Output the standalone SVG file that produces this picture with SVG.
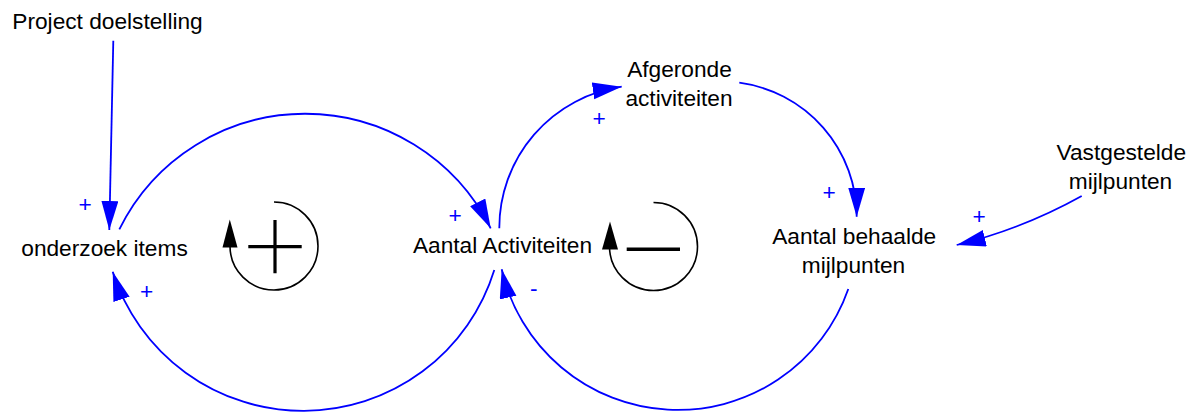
<svg xmlns="http://www.w3.org/2000/svg" width="1197" height="412" viewBox="0 0 1197 412">
<style>
.lbl{font-family:"Liberation Sans",Arial,sans-serif;font-size:22.7px;fill:#000;text-anchor:middle}
.pol{font-family:"Liberation Sans",Arial,sans-serif;font-size:22.7px;fill:#0000ff;text-anchor:middle}
.con{fill:none;stroke:#0000ff;stroke-width:1.8}
.loop{fill:none;stroke:#000;stroke-width:1.6}
.sym{stroke:#000;stroke-width:3.2;fill:none}
</style>
<defs>
<marker id="ah" markerUnits="userSpaceOnUse" markerWidth="30" markerHeight="18" refX="29" refY="8.5" orient="auto">
<path d="M0,0 L29,8.5 L0,17 z" fill="#0000ff"/>
</marker>
</defs>
<rect width="1197" height="412" fill="#fff"/>
<g id="connectors">
<path class="con" marker-end="url(#ah)" d="M113.3,40.7 L109.3,230"/>
<path class="con" marker-end="url(#ah)" d="M119.3,229.3 A207.4,207.4 0 0 1 490.7,228.3"/>
<path class="con" marker-end="url(#ah)" d="M494.3,270 A200,200 0 0 1 112.7,271.7"/>
<path class="con" marker-end="url(#ah)" d="M499.3,228.3 A142.7,142.7 0 0 1 621.7,86.7"/>
<path class="con" marker-end="url(#ah)" d="M739.3,82.7 A135.2,135.2 0 0 1 856.7,216.7"/>
<path class="con" marker-end="url(#ah)" d="M848.3,289 A180.6,180.6 0 0 1 501.7,269.3"/>
<path class="con" marker-end="url(#ah)" d="M1081.7,196 A500,500 0 0 1 956.7,245"/>
<text class="pol" x="85" y="212">+</text>
<text class="pol" x="455" y="223">+</text>
<text class="pol" x="146.7" y="299">+</text>
<text class="pol" x="599" y="125.5">+</text>
<text class="pol" x="829" y="200">+</text>
<text class="pol" x="533.8" y="295.5">-</text>
<text class="pol" x="979" y="224">+</text>
</g>
<g id="node-project-doelstelling"><text class="lbl" x="107.5" y="29">Project doelstelling</text></g>
<g id="node-onderzoek-items"><text class="lbl" x="104.5" y="256">onderzoek items</text></g>
<g id="node-aantal-activiteiten"><text class="lbl" x="502.5" y="253">Aantal Activiteiten</text></g>
<g id="node-afgeronde-activiteiten"><text class="lbl" x="679.5" y="77">Afgeronde</text><text class="lbl" x="679" y="105.5">activiteiten</text></g>
<g id="node-aantal-behaalde-mijlpunten"><text class="lbl" x="854.2" y="244.3">Aantal behaalde</text><text class="lbl" x="853.5" y="273.3">mijlpunten</text></g>
<g id="node-vastgestelde-mijlpunten"><text class="lbl" x="1121.3" y="160">Vastgestelde</text><text class="lbl" x="1120.5" y="188.5">mijlpunten</text></g>
<g id="loop-reinforcing">
<path class="loop" d="M274,202 A44,44 0 1 1 230,246"/>
<path d="M229.8,219.5 L237.5,247.5 L222.5,247.5 z" fill="#000"/>
<path class="sym" d="M248.3,246.7 H301.7 M275,220 V273.3"/>
</g>
<g id="loop-balancing">
<path class="loop" d="M653.5,202.5 A44,44 0 1 1 609.5,246.5"/>
<path d="M610,221.5 L618,249.5 L602,249.5 z" fill="#000"/>
<path class="sym" style="stroke-width:3.6" d="M626.7,249.3 H680"/>
</g>
</svg>
